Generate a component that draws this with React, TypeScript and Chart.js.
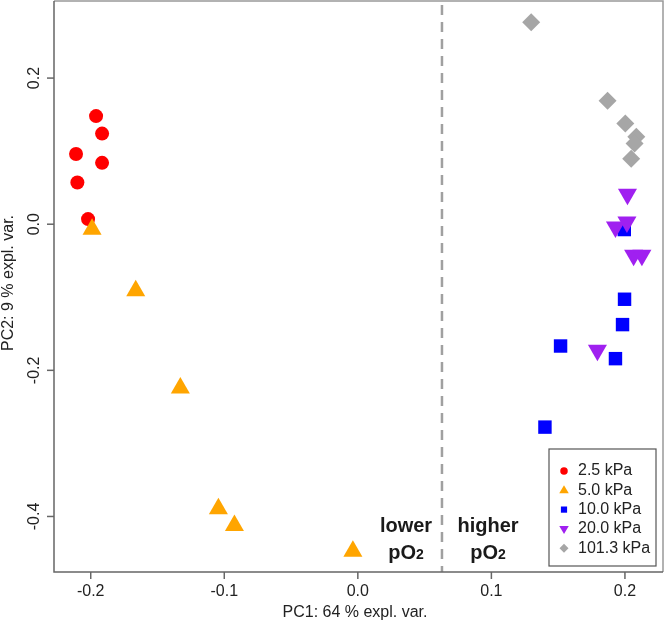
import React, { useEffect, useRef } from "react";
import { Chart, registerables } from "chart.js";

Chart.register(...registerables);

// ---------- data ----------
const seriesLabels = ["2.5 kPa", "5.0 kPa", "10.0 kPa", "20.0 kPa", "101.3 kPa"];
const seriesColors = ["#FF0000", "#FFA500", "#0000FF", "#A020F0", "#A6A6A6"];

const pc1_2_5 = [-0.196, -0.1915, -0.211, -0.1915, -0.21, -0.202];
const pc2_2_5 = [0.148, 0.124, 0.096, 0.084, 0.057, 0.007];

const pc1_5_0 = [-0.199, -0.1663, -0.1329, -0.1044, -0.0924, -0.0037];
const pc2_5_0 = [-0.007, -0.091, -0.224, -0.3895, -0.4123, -0.4475];

const pc1_10_0 = [0.1995, 0.1997, 0.1982, 0.1518, 0.1929, 0.1401];
const pc2_10_0 = [-0.0073, -0.1027, -0.1374, -0.1667, -0.184, -0.2777];

const pc1_20_0 = [0.2019, 0.2015, 0.1929, 0.2065, 0.2127, 0.1794];
const pc2_20_0 = [0.041, 0.003, -0.0037, -0.0425, -0.0425, -0.1726];

const pc1_101_3 = [0.1298, 0.187, 0.2003, 0.2085, 0.2072, 0.2047];
const pc2_101_3 = [0.2763, 0.169, 0.138, 0.1196, 0.1105, 0.0895];

const xTicks = [-0.2, -0.1, 0.0, 0.1, 0.2];
const xTickLabels = ["-0.2", "-0.1", "0.0", "0.1", "0.2"];
const yTicks = [-0.4, -0.2, 0.0, 0.2];
const yTickLabels = ["-0.4", "-0.2", "0.0", "0.2"];

const xTitle = "PC1: 64 % expl. var.";
const yTitle = "PC2: 9 % expl. var.";
const dividerX = 0.063;
const leftNote = ["lower", "pO", "2"];
const rightNote = ["higher", "pO", "2"];

const toPoints = (xs: number[], ys: number[]) => xs.map((x, i) => ({ x, y: ys[i] }));

const FONT = "'Liberation Sans', Arial, sans-serif";

function drawMarker(ctx: CanvasRenderingContext2D, kind: number, x: number, y: number, s: number) {
  ctx.beginPath();
  if (kind === 0) {
    ctx.arc(x, y, s * 0.75, 0, Math.PI * 2);
  } else if (kind === 1) {
    ctx.moveTo(x, y - s);
    ctx.lineTo(x + s * 0.95, y + s * 0.6);
    ctx.lineTo(x - s * 0.95, y + s * 0.6);
  } else if (kind === 2) {
    ctx.rect(x - s * 0.62, y - s * 0.62, s * 1.24, s * 1.24);
  } else if (kind === 3) {
    ctx.moveTo(x, y + s);
    ctx.lineTo(x + s * 0.95, y - s * 0.6);
    ctx.lineTo(x - s * 0.95, y - s * 0.6);
  } else {
    ctx.moveTo(x, y - s * 0.9);
    ctx.lineTo(x + s * 0.9, y);
    ctx.lineTo(x, y + s * 0.9);
    ctx.lineTo(x - s * 0.9, y);
  }
  ctx.closePath();
  ctx.fill();
}

const rPlugin = {
  id: "rStyle",
  beforeDatasetsDraw(chart: any) {
    const { ctx, chartArea, scales } = chart;
    const px = scales.x.getPixelForValue(dividerX);
    ctx.save();
    ctx.strokeStyle = "#A0A0A0";
    ctx.lineWidth = 2.5;
    ctx.setLineDash([10, 7]);
    ctx.beginPath();
    ctx.moveTo(px, chartArea.top + 4);
    ctx.lineTo(px, chartArea.bottom);
    ctx.stroke();
    ctx.restore();
  },
  afterDraw(chart: any) {
    const { ctx, chartArea, scales } = chart;
    const { left, top, right, bottom } = chartArea;
    ctx.save();
    // box
    ctx.strokeStyle = "#999999";
    ctx.lineWidth = 1.5;
    ctx.beginPath();
    ctx.moveTo(left, top);
    ctx.lineTo(right, top);
    ctx.lineTo(right, bottom);
    ctx.stroke();
    ctx.strokeStyle = "#666666";
    ctx.beginPath();
    ctx.moveTo(left, top);
    ctx.lineTo(left, bottom);
    ctx.lineTo(right, bottom);
    ctx.stroke();

    // x ticks
    ctx.fillStyle = "#222222";
    ctx.font = `16px ${FONT}`;
    ctx.textAlign = "center";
    ctx.textBaseline = "middle";
    xTicks.forEach((v, i) => {
      const px = scales.x.getPixelForValue(v);
      ctx.beginPath();
      ctx.moveTo(px, bottom);
      ctx.lineTo(px, bottom + 7);
      ctx.stroke();
      ctx.fillText(xTickLabels[i], px, bottom + 20);
    });
    // y ticks
    yTicks.forEach((v, i) => {
      const py = scales.y.getPixelForValue(v);
      ctx.beginPath();
      ctx.moveTo(left, py);
      ctx.lineTo(left - 7, py);
      ctx.stroke();
      ctx.save();
      ctx.translate(left - 19, py);
      ctx.rotate(-Math.PI / 2);
      ctx.fillText(yTickLabels[i], 0, 0);
      ctx.restore();
    });

    // axis titles
    ctx.font = `16px ${FONT}`;
    ctx.fillText(xTitle, 355, bottom + 41);
    ctx.save();
    ctx.translate(9, 283);
    ctx.rotate(-Math.PI / 2);
    ctx.fillText(yTitle, 0, 0);
    ctx.restore();

    // annotations
    const drawNote = (note: string[], cx: number) => {
      ctx.fillStyle = "#1a1a1a";
      ctx.font = `bold 20px ${FONT}`;
      ctx.textAlign = "center";
      ctx.textBaseline = "alphabetic";
      ctx.fillText(note[0], cx, 532);
      const mainW = ctx.measureText(note[1]).width;
      ctx.font = `bold 14px ${FONT}`;
      const subW = ctx.measureText(note[2]).width;
      const startX = cx - (mainW + subW) / 2;
      ctx.font = `bold 20px ${FONT}`;
      ctx.textAlign = "left";
      ctx.fillText(note[1], startX, 559);
      ctx.font = `bold 14px ${FONT}`;
      ctx.fillText(note[2], startX + mainW, 559);
    };
    drawNote(leftNote, 406);
    drawNote(rightNote, 488);

    // legend
    const lx = 549, ly = 449, lw = 107, lh = 117;
    ctx.fillStyle = "#FFFFFF";
    ctx.fillRect(lx, ly, lw, lh);
    ctx.strokeStyle = "#555555";
    ctx.lineWidth = 1.2;
    ctx.strokeRect(lx, ly, lw, lh);
    ctx.font = `16px ${FONT}`;
    ctx.textAlign = "left";
    ctx.textBaseline = "middle";
    seriesLabels.forEach((lab, i) => {
      const yy = ly + 22 + i * 19.3;
      ctx.fillStyle = seriesColors[i];
      drawMarker(ctx, i, lx + 15, yy, 5);
      ctx.fillStyle = "#222222";
      ctx.fillText(lab, lx + 29, yy);
    });
    ctx.restore();
  },
};

export default function App() {
  const ref = useRef<HTMLCanvasElement>(null);
  useEffect(() => {
    if (!ref.current) return;
    const chart = new Chart(ref.current, {
      type: "scatter",
      data: {
        datasets: [
          {
            label: seriesLabels[0],
            data: toPoints(pc1_2_5, pc2_2_5),
            backgroundColor: seriesColors[0],
            borderWidth: 0,
            pointStyle: "circle",
            pointRadius: 7,
            order: 5,
          },
          {
            label: seriesLabels[1],
            data: toPoints(pc1_5_0, pc2_5_0),
            backgroundColor: seriesColors[1],
            borderWidth: 0,
            pointStyle: "triangle",
            pointRadius: 11,
            order: 4,
          },
          {
            label: seriesLabels[2],
            data: toPoints(pc1_10_0, pc2_10_0),
            backgroundColor: seriesColors[2],
            borderWidth: 0,
            pointStyle: "rect",
            pointRadius: 9.5,
            order: 3,
          },
          {
            label: seriesLabels[3],
            data: toPoints(pc1_20_0, pc2_20_0),
            backgroundColor: seriesColors[3],
            borderWidth: 0,
            pointStyle: "triangle",
            pointRotation: 180,
            pointRadius: 11,
            order: 2,
          },
          {
            label: seriesLabels[4],
            data: toPoints(pc1_101_3, pc2_101_3),
            backgroundColor: seriesColors[4],
            borderWidth: 0,
            pointStyle: "rectRot",
            pointRadius: 9,
            order: 1,
          },
        ] as any,
      },
      options: {
        responsive: false,
        animation: false,
        devicePixelRatio: 1,
        layout: { autoPadding: false, padding: { left: 54, top: 1, right: 3, bottom: 55 } },
        plugins: { legend: { display: false }, tooltip: { enabled: false } },
        elements: { point: { hoverRadius: 0 } },
        scales: {
          x: { type: "linear", min: -0.2275, max: 0.2285, display: false },
          y: { type: "linear", min: -0.476, max: 0.3055, display: false },
        },
        clip: false as any,
      },
      plugins: [rPlugin],
    });
    return () => chart.destroy();
  }, []);
  return (
    <div style={{ position: "fixed", left: 0, top: 0, width: 666, height: 627, background: "#fff" }}>
      <canvas ref={ref} width={666} height={627} />
    </div>
  );
}
